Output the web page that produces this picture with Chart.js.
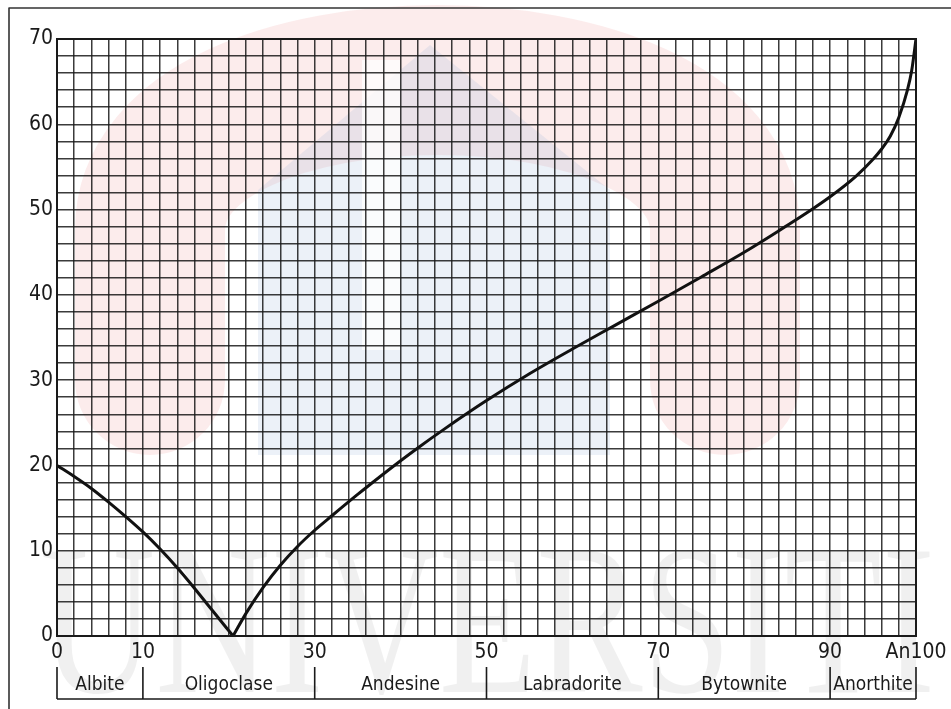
<!DOCTYPE html>
<html>
<head>
<meta charset="utf-8">
<script src="https://cdn.jsdelivr.net/npm/chart.js@4"></script>
<style>
  html, body { margin: 0; padding: 0; background: #ffffff; }
  #wrap { width: 951px; height: 709px; position: relative; }
</style>
</head>
<body>
<div id="wrap"><canvas id="c" width="951" height="709"></canvas></div>
<script>
// ---- data ----
const leftBranchX  = [0, 2, 4, 6, 8, 10, 12, 14, 16, 18, 20.5];
const leftBranchY  = [20, 18.7, 17.3, 15.7, 14.0, 12.2, 10.2, 8.0, 5.6, 3.1, 0];
const rightBranchX = [20.5, 22, 24, 26, 28, 30, 32, 35, 38, 40, 42, 45, 50, 55, 60, 65, 70, 75, 80, 84, 88, 90, 93, 95, 96, 97, 98, 99, 99.5, 100];
const rightBranchY = [0, 2.65, 5.7, 8.3, 10.5, 12.4, 14.1, 16.6, 19.0, 20.55, 22.05, 24.2, 27.6, 30.75, 33.65, 36.45, 39.25, 42.1, 45.0, 47.5, 50.1, 51.5, 53.9, 55.9, 57.1, 58.6, 60.8, 64.0, 66.3, 70];

const xTickValues = [0, 10, 30, 50, 70, 90, 100];
const xTickTexts  = ['0', '10', '30', '50', '70', '90', 'An100'];
const yTickValues = [0, 10, 20, 30, 40, 50, 60, 70];
const yTickTexts  = ['0', '10', '20', '30', '40', '50', '60', '70'];

const mineralNames  = ['Albite', 'Oligoclase', 'Andesine', 'Labradorite', 'Bytownite', 'Anorthite'];
const mineralBounds = [0, 10, 30, 50, 70, 90, 100];

const watermarkText = 'UNIVERSITI';

const FONT = "'DejaVu Sans Condensed', 'Liberation Sans Narrow', sans-serif";
const INK = '#1a1a1a';

function pts(xs, ys) { return xs.map((x, i) => ({ x: x, y: ys[i] })); }

// background, watermark and outer frame
const backdrop = {
  id: 'backdrop',
  beforeDraw(chart) {
    const ctx = chart.ctx;
    ctx.save();
    ctx.fillStyle = '#ffffff';
    ctx.fillRect(0, 0, chart.width, chart.height);
    // faint watermark logo
    ctx.lineCap = 'round';
    ctx.lineJoin = 'round';
    ctx.strokeStyle = 'rgba(235,110,110,0.13)';
    ctx.lineWidth = 150;
    ctx.beginPath();
    ctx.moveTo(150, 380);
    ctx.lineTo(150, 230);
    ctx.bezierCurveTo(150, 30, 725, 30, 725, 230);
    ctx.lineTo(725, 380);
    ctx.stroke();
    ctx.fillStyle = 'rgba(150,180,215,0.18)';
    ctx.beginPath();
    ctx.moveTo(430, 45);
    ctx.lineTo(610, 190);
    ctx.lineTo(610, 455);
    ctx.lineTo(258, 455);
    ctx.lineTo(258, 190);
    ctx.closePath();
    ctx.fill();
    ctx.fillStyle = 'rgba(255,255,255,0.75)';
    ctx.fillRect(362, 60, 38, 290);
    // faint watermark text
    ctx.fillStyle = 'rgba(0,0,0,0.06)';
    ctx.font = "215px 'Liberation Serif', serif";
    ctx.textBaseline = 'alphabetic';
    ctx.textAlign = 'left';
    ctx.fillText(watermarkText, 40, 692, 895);
    // outer frame (left & top)
    ctx.strokeStyle = '#333';
    ctx.lineWidth = 1.6;
    ctx.beginPath();
    ctx.moveTo(9, 709);
    ctx.lineTo(9, 8);
    ctx.lineTo(951, 8);
    ctx.stroke();
    ctx.restore();
  },
  afterDraw(chart) {
    const ctx = chart.ctx;
    const a = chart.chartArea;
    const xs = chart.scales.x;
    ctx.save();
    // heavy plot frame
    ctx.strokeStyle = INK;
    ctx.lineWidth = 2;
    ctx.strokeRect(a.left, a.top, a.right - a.left, a.bottom - a.top);
    // mineral classification bar
    const yTop = 667, yBot = 699;
    ctx.lineWidth = 1.6;
    ctx.beginPath();
    ctx.moveTo(xs.getPixelForValue(mineralBounds[0]), yBot);
    ctx.lineTo(xs.getPixelForValue(mineralBounds[mineralBounds.length - 1]), yBot);
    mineralBounds.forEach(b => {
      const px = xs.getPixelForValue(b);
      ctx.moveTo(px, yTop);
      ctx.lineTo(px, yBot);
    });
    ctx.stroke();
    ctx.fillStyle = INK;
    ctx.font = '19px ' + FONT;
    ctx.textAlign = 'center';
    ctx.textBaseline = 'middle';
    mineralNames.forEach((n, i) => {
      const cx = (xs.getPixelForValue(mineralBounds[i]) + xs.getPixelForValue(mineralBounds[i + 1])) / 2;
      ctx.fillText(n, cx, 685);
    });
    ctx.restore();
  }
};

const gridStyle = {
  color: 'rgba(25,25,25,0.85)',
  lineWidth: 1.5,
  drawTicks: false
};

new Chart(document.getElementById('c'), {
  type: 'line',
  data: {
    datasets: [
      {
        data: pts(leftBranchX, leftBranchY),
        borderColor: '#111',
        borderWidth: 3,
        pointRadius: 0,
        cubicInterpolationMode: 'monotone',
        fill: false
      },
      {
        data: pts(rightBranchX, rightBranchY),
        borderColor: '#111',
        borderWidth: 3,
        pointRadius: 0,
        cubicInterpolationMode: 'monotone',
        fill: false
      }
    ]
  },
  options: {
    responsive: false,
    animation: false,
    devicePixelRatio: 1,
    layout: { padding: { top: 39, right: 35, left: 0, bottom: 0 } },
    plugins: { legend: { display: false }, tooltip: { enabled: false } },
    scales: {
      x: {
        type: 'linear',
        min: 0, max: 100,
        grid: gridStyle,
        border: { display: true, color: INK, width: 2 },
        afterFit(s) { s.height = 73; },
        ticks: {
          stepSize: 2,
          maxTicksLimit: 200,
          autoSkip: false,
          maxRotation: 0,
          padding: 4,
          color: INK,
          font: { family: FONT, size: 21 },
          callback(v) {
            const i = xTickValues.indexOf(v);
            return i >= 0 ? xTickTexts[i] : '';
          }
        }
      },
      y: {
        type: 'linear',
        min: 0, max: 70,
        grid: gridStyle,
        border: { display: true, color: INK, width: 2 },
        afterFit(s) { s.width = 57; },
        ticks: {
          stepSize: 2,
          maxTicksLimit: 200,
          autoSkip: false,
          padding: 4,
          color: INK,
          font: { family: FONT, size: 21 },
          callback(v) {
            const i = yTickValues.indexOf(v);
            return i >= 0 ? yTickTexts[i] : '';
          }
        }
      }
    }
  },
  plugins: [backdrop]
});
</script>
</body>
</html>
